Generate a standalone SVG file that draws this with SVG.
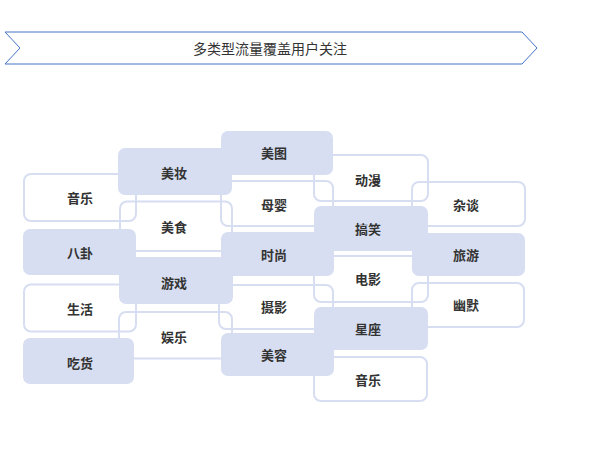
<svg xmlns="http://www.w3.org/2000/svg" width="595" height="467" viewBox="0 0 595 467">
<style>
.o{fill:none;stroke:#d7def1;stroke-width:2}
.f{fill:#d7def1;stroke:none}
.t{font-family:"Noto Sans CJK SC","Liberation Sans",sans-serif;font-size:13px;font-weight:bold;fill:#333;text-anchor:middle;dominant-baseline:central}
.h{font-family:"Noto Sans CJK SC","Liberation Sans",sans-serif;font-size:14px;fill:#333;text-anchor:middle;dominant-baseline:central}
</style>
<rect width="595" height="467" fill="#fff"/>
<g id="title">
<polygon points="5,32 522,32 537,48 522,64 5,64 20,48" fill="#fff" stroke="#4472c4" stroke-width="1"/>
<text class="h" x="270" y="48">多类型流量覆盖用户关注</text>
</g>
<g id="outlines">
<g id="n-yinyue1"><rect class="o" x="24" y="174" width="112" height="47" rx="7"/></g>
<g id="n-shengh"><rect class="o" x="24" y="284.5" width="112" height="47" rx="7"/></g>
<g id="n-meishi"><rect class="o" x="120" y="201.5" width="112" height="49.5" rx="7"/></g>
<g id="n-yule"><rect class="o" x="119" y="312" width="113" height="46.5" rx="7"/></g>
<g id="n-muying"><rect class="o" x="221" y="181" width="112" height="45" rx="7"/></g>
<g id="n-sheying"><rect class="o" x="219" y="285" width="114" height="44" rx="7"/></g>
<g id="n-dongman"><rect class="o" x="314" y="155" width="114" height="46" rx="7"/></g>
<g id="n-dianying"><rect class="o" x="314" y="256" width="114" height="46" rx="7"/></g>
<g id="n-yinyue2"><rect class="o" x="314" y="357" width="113" height="44" rx="7"/></g>
<g id="n-zatan"><rect class="o" x="412" y="182" width="113" height="44" rx="7"/></g>
<g id="n-youmo"><rect class="o" x="412" y="283" width="112" height="44" rx="7"/></g>
</g>
<g id="filled">
<g id="n-bagua"><rect class="f" x="23" y="229" width="113" height="46" rx="7"/></g>
<g id="n-chihuo"><rect class="f" x="23" y="338" width="111" height="46" rx="7"/></g>
<g id="n-meizhuang"><rect class="f" x="118" y="148" width="114" height="47" rx="7"/></g>
<g id="n-youxi"><rect class="f" x="119" y="257" width="114" height="47" rx="7"/></g>
<g id="n-meitu"><rect class="f" x="221" y="131" width="112" height="44" rx="7"/></g>
<g id="n-shishang"><rect class="f" x="221" y="232" width="113" height="44" rx="7"/></g>
<g id="n-meirong"><rect class="f" x="221" y="333" width="113" height="43" rx="7"/></g>
<g id="n-gaoxiao"><rect class="f" x="314" y="206" width="114" height="45" rx="7"/></g>
<g id="n-xingzuo"><rect class="f" x="314" y="307" width="114" height="43" rx="7"/></g>
<g id="n-lvyou"><rect class="f" x="412" y="233" width="113" height="43" rx="7"/></g>
</g>
<g id="labels">
<text class="t" x="80" y="197">音乐</text>
<text class="t" x="80" y="252">八卦</text>
<text class="t" x="80" y="308">生活</text>
<text class="t" x="80" y="362">吃货</text>
<text class="t" x="174" y="172">美妆</text>
<text class="t" x="174" y="226">美食</text>
<text class="t" x="174" y="282">游戏</text>
<text class="t" x="174" y="336">娱乐</text>
<text class="t" x="274" y="152">美图</text>
<text class="t" x="274" y="204">母婴</text>
<text class="t" x="274" y="254">时尚</text>
<text class="t" x="274" y="306">摄影</text>
<text class="t" x="274" y="354">美容</text>
<text class="t" x="368" y="179">动漫</text>
<text class="t" x="368" y="228">搞笑</text>
<text class="t" x="368" y="278">电影</text>
<text class="t" x="368" y="328">星座</text>
<text class="t" x="368" y="379">音乐</text>
<text class="t" x="466" y="204">杂谈</text>
<text class="t" x="466" y="254">旅游</text>
<text class="t" x="466" y="304">幽默</text>
</g>
</svg>
